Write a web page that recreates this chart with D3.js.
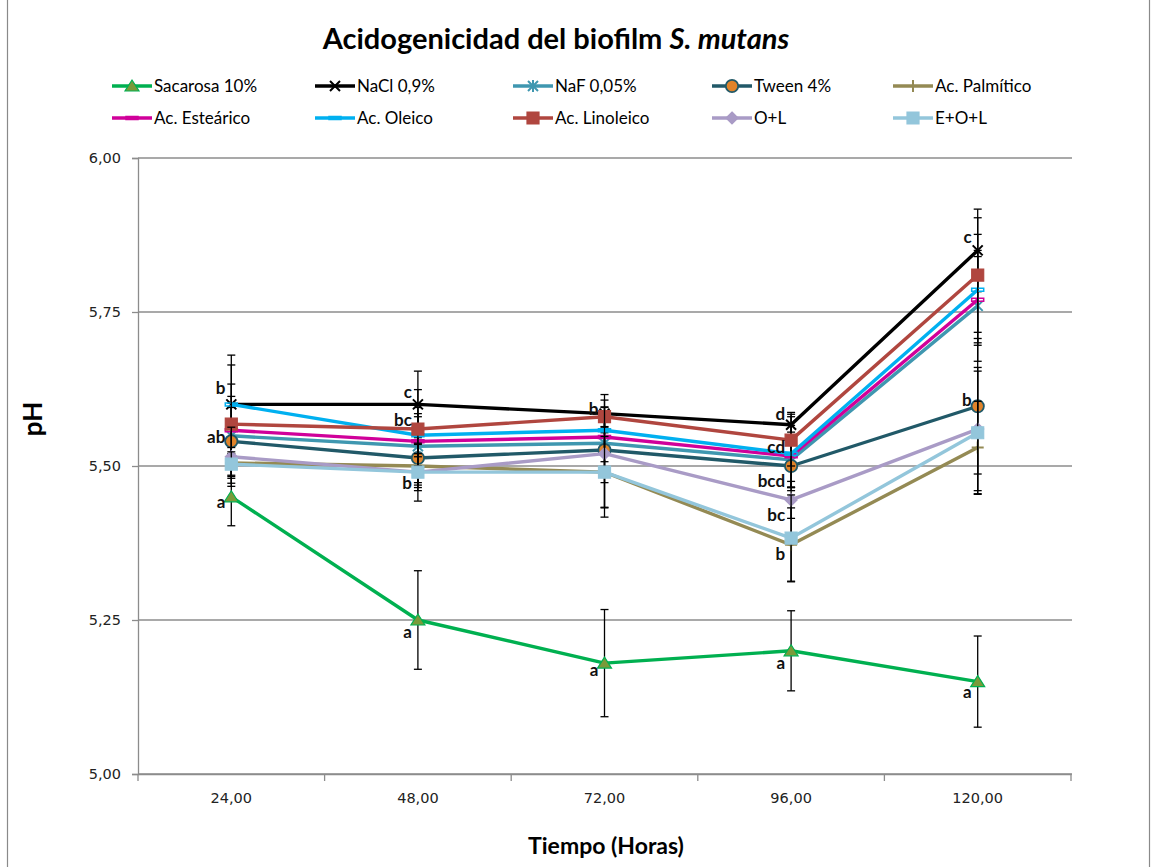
<!DOCTYPE html>
<html><head><meta charset="utf-8">
<script src="https://cdn.jsdelivr.net/npm/d3@7"></script>
<style>body{margin:0;background:#fff}svg{display:block}</style>
</head><body>
<script>
const times = [24, 48, 72, 96, 120];
const seriesNames = ["Sacarosa 10%","NaCl 0,9%","NaF 0,05%","Tween 4%","Ac. Palmítico","Ac. Esteárico","Ac. Oleico","Ac. Linoleico","O+L","E+O+L"];
const sacarosa = [5.45, 5.25, 5.18, 5.20, 5.15];
const nacl     = [5.60, 5.60, 5.585, 5.567, 5.85];
const naf      = [5.549, 5.532, 5.537, 5.51, 5.76];
const tween    = [5.54, 5.513, 5.526, 5.50, 5.597];
const palmitico= [5.505, 5.50, 5.49, 5.372, 5.53];
const estearico= [5.558, 5.54, 5.547, 5.516, 5.77];
const oleico   = [5.60, 5.55, 5.558, 5.52, 5.786];
const linoleico= [5.568, 5.56, 5.58, 5.542, 5.81];
const oL       = [5.515, 5.49, 5.52, 5.445, 5.56];
const eOL      = [5.503, 5.49, 5.49, 5.383, 5.554];
const errSacarosa = [0.047, 0.08, 0.087, 0.065, 0.074];
const errNacl     = [0.08, 0.054, 0.031, 0.02, 0.067];
const errNaf      = [0.053, 0.063, 0.05, 0.045, 0.09];
const errTween    = [0.055, 0.04, 0.053, 0.035, 0.11];
const errPalmitico= [0.025, 0.035, 0.073, 0.06, 0.075];
const errEstearico= [0.055, 0.04, 0.04, 0.05, 0.07];
const errOleico   = [0.033, 0.035, 0.037, 0.06, 0.09];
const errLinoleico= [0.096, 0.064, 0.016, 0.042, 0.093];
const errOL       = [0.048, 0.047, 0.087, 0.03, 0.1];
const errEOL      = [0.02, 0.03, 0.058, 0.07, 0.1];
const yTicks = [5.00, 5.25, 5.50, 5.75, 6.00];
// significance letters: time, pH position, text
const letterTimes = [24,24,24,48,48,48,72,96,96,96,96,96,120,120,48,72,96,120];
const letterPH    = [5.627,5.547,5.442,5.620,5.575,5.472,5.593,5.584,5.531,5.476,5.42,5.357,5.872,5.607,5.23,5.169,5.18,5.133];
const letterText  = ["b","ab","a","c","bc","b","b","d","cd","bcd","bc","b","c","b","a","a","a","a"];

const values = [sacarosa,nacl,naf,tween,palmitico,estearico,oleico,linoleico,oL,eOL];
const errors = [errSacarosa,errNacl,errNaf,errTween,errPalmitico,errEstearico,errOleico,errLinoleico,errOL,errEOL];
const styles = [
 {line:"#00B050", marker:"triangle", fill:"#7A9A3A", stroke:"#00B050"},
 {line:"#000000", marker:"x", fill:"none", stroke:"#000000"},
 {line:"#3F97B0", marker:"star", fill:"none", stroke:"#3F97B0"},
 {line:"#215968", marker:"circle", fill:"#E0832A", stroke:"#215968"},
 {line:"#948A54", marker:"plus", fill:"none", stroke:"#948A54"},
 {line:"#D0009A", marker:"dash", fill:"none", stroke:"#D0009A"},
 {line:"#00B0F0", marker:"dash", fill:"none", stroke:"#00B0F0"},
 {line:"#B0463F", marker:"square", fill:"#B0463F", stroke:"#B0463F"},
 {line:"#A99BC6", marker:"diamond", fill:"#A99BC6", stroke:"#A99BC6"},
 {line:"#93C6DB", marker:"square", fill:"#93C6DB", stroke:"#93C6DB"}
];

const W = 1158, H = 867;
const svg = d3.select("body").append("svg").attr("width", W).attr("height", H);
svg.append("rect").attr("x",7.5).attr("y",-2).attr("width",1142).attr("height",H+4)
  .attr("fill","#fff").attr("stroke","#8a8a8a").attr("stroke-width",1.2);

const x = d3.scaleBand().domain(times).range([138, 1071]).padding(0);
const cx = t => x(t) + x.bandwidth()/2;
const y = d3.scaleLinear().domain([5, 6]).range([774, 158]);
const fmt = d => d3.format(".2f")(d).replace(".", ",");

// gridlines
svg.append("g").selectAll("line").data(yTicks).join("line")
  .attr("x1",138).attr("x2",1072).attr("y1",d=>y(d)).attr("y2",d=>y(d))
  .attr("stroke","#8c8c8c").attr("stroke-width",1.3);

// y axis
const ya = svg.append("g").attr("transform","translate(138,0)")
  .call(d3.axisLeft(y).tickValues(yTicks).tickFormat(fmt).tickSize(6).tickPadding(11));
ya.select(".domain").attr("stroke","#8c8c8c").attr("stroke-width",1.3);
ya.selectAll(".tick line").attr("stroke","#8c8c8c").attr("stroke-width",1.3);
ya.selectAll("text").attr("font-family","DejaVu Sans").attr("font-size",14.5).attr("fill","#222");

// x axis
const xa = svg.append("g").attr("transform","translate(0,774)")
  .call(d3.axisBottom(x).tickFormat(fmt).tickSize(0).tickPadding(19));
xa.select(".domain").attr("stroke","#8c8c8c").attr("stroke-width",1.3);
xa.selectAll("text").attr("font-family","DejaVu Sans").attr("font-size",14.5).attr("fill","#222");
const bounds = times.map(t => x(t)).concat([x(times[times.length-1]) + x.bandwidth()]);
xa.selectAll("line.bt").data(bounds).join("line").attr("class","bt")
  .attr("x1",d=>d).attr("x2",d=>d).attr("y1",0).attr("y2",7)
  .attr("stroke","#8c8c8c").attr("stroke-width",1.3);

function markerPath(type){
  switch(type){
    case "triangle": return "M0,-6L7,5L-7,5Z";
    case "square": return "M-6,-6H6V6H-6Z";
    case "diamond": return "M0,-6L6,0L0,6L-6,0Z";
    case "circle": return d3.symbol(d3.symbolCircle, 120)();
    case "x": return "M-5,-5L5,5M-5,5L5,-5";
    case "star": return "M-5,-5L5,5M-5,5L5,-5M0,-6V6";
    case "plus": return "M-6,0H6M0,-6V6";
    case "dash": return "M-6,-1.5H6V1.5H-6Z";
  }
}
function drawMarker(g, st, px, py){
  const filled = ["triangle","square","diamond","circle"].includes(st.marker);
  const p = g.append("path").attr("d", markerPath(st.marker)).attr("transform",`translate(${px},${py})`);
  if (st.marker === "dash") p.attr("fill","none").attr("stroke",st.stroke).attr("stroke-width",1.5);
  else if (filled) p.attr("fill",st.fill).attr("stroke",st.stroke).attr("stroke-width",st.marker==="circle"?1.8:1.2);
  else p.attr("fill","none").attr("stroke",st.stroke).attr("stroke-width",2);
}

const line = d3.line().x((d,i)=>cx(times[i])).y(d=>y(d));
values.forEach((vals, si) => {
  const st = styles[si];
  const g = svg.append("g");
  // error bars
  vals.forEach((v, i) => {
    const e = errors[si][i], px = cx(times[i]);
    g.append("line").attr("x1",px).attr("x2",px).attr("y1",y(v+e)).attr("y2",y(v-e)).attr("stroke","#000").attr("stroke-width",1.3);
    [v+e, v-e].forEach(c => g.append("line").attr("x1",px-4).attr("x2",px+4).attr("y1",y(c)).attr("y2",y(c)).attr("stroke","#000").attr("stroke-width",1.3));
  });
  g.append("path").datum(vals).attr("d", line).attr("fill","none").attr("stroke",st.line).attr("stroke-width",3.4).attr("stroke-linejoin","round");
  vals.forEach((v,i) => drawMarker(g, st, cx(times[i]), y(v)));
});

// letters
svg.append("g").selectAll("text").data(letterText).join("text")
  .attr("x",(d,i)=>cx(letterTimes[i]) - 6).attr("y",(d,i)=>y(letterPH[i]))
  .attr("dy","0.35em").attr("text-anchor","end")
  .attr("font-family","Lato").attr("font-weight","bold").attr("font-size",17).attr("fill","#111")
  .text(d=>d);

// title
const title = svg.append("text").attr("x",556).attr("y",49).attr("text-anchor","middle")
  .attr("font-family","Lato").attr("font-weight","bold").attr("font-size",29).attr("fill","#000");
title.append("tspan").text("Acidogenicidad del biofilm ");
title.append("tspan").attr("font-style","italic").text("S. mutans");

// axis titles
svg.append("text").attr("x",606).attr("y",854).attr("text-anchor","middle")
  .attr("font-family","Lato").attr("font-weight","bold").attr("font-size",23).text("Tiempo (Horas)");
svg.append("text").attr("transform","translate(42,419) rotate(-90)").attr("text-anchor","middle")
  .attr("font-family","Lato").attr("font-weight","bold").attr("font-size",26).text("pH");

// legend
const legX = [112, 315, 513, 712, 893];
const legY = [86, 118];
seriesNames.forEach((name, i) => {
  const lx = legX[i % 5], ly = legY[Math.floor(i / 5)];
  const st = styles[i];
  const g = svg.append("g");
  g.append("line").attr("x1",lx).attr("x2",lx+40).attr("y1",ly).attr("y2",ly).attr("stroke",st.line).attr("stroke-width",3.4);
  drawMarker(g, st, lx+20, ly);
  g.append("text").attr("x",lx+42).attr("y",ly).attr("dy","0.35em")
    .attr("font-family","Lato").attr("font-size",17).attr("fill","#000").text(name);
});
</script>
</body></html>
